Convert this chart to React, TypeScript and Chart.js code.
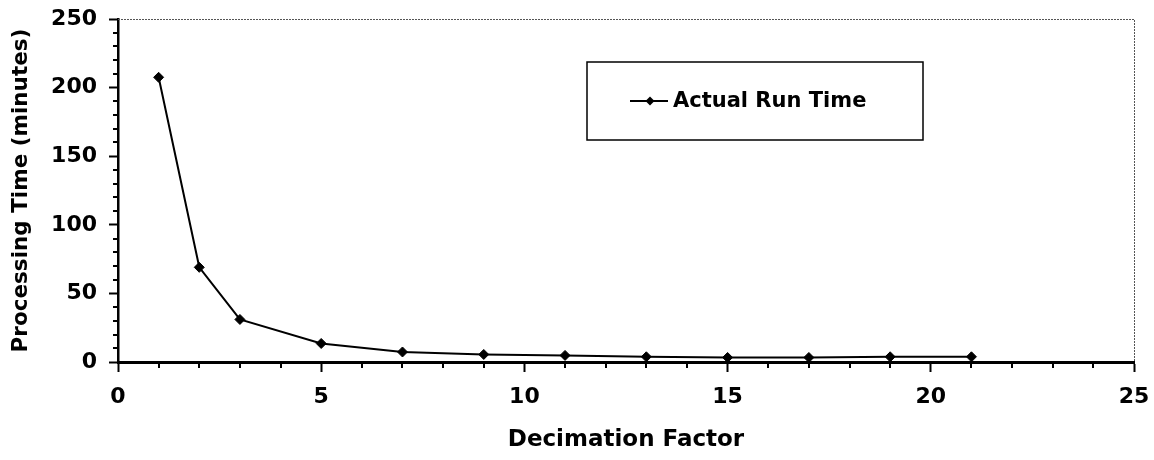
import React, { useEffect, useRef } from "react";
import { Chart, registerables } from "chart.js";

Chart.register(...registerables);

// ---- data ----
const decimationFactors = [1, 2, 3, 5, 7, 9, 11, 13, 15, 17, 19, 21];
const runTimes = [207.5, 69, 31, 13.5, 7.3, 5.5, 4.8, 3.8, 3.3, 3.3, 3.8, 3.8];
const seriesLabel = "Actual Run Time";
const xTitle = "Decimation Factor";
const yTitle = "Processing Time (minutes)";
const xRange = [0, 25];
const yRange = [0, 250];
const xMajorStep = 5;
const xMinorStep = 1;
const yMajorStep = 50;
const yMinorStep = 10;

const FONT = "'DejaVu Sans', sans-serif";

const decorations = {
  id: "decorations",
  afterDraw(chart: any) {
    const { ctx, chartArea, scales } = chart;
    const xs = scales.x;
    const ys = scales.y;
    ctx.save();
    // dotted top / right frame
    ctx.strokeStyle = "#555";
    ctx.lineWidth = 1;
    ctx.setLineDash([2, 1]);
    ctx.beginPath();
    ctx.moveTo(chartArea.left, Math.round(chartArea.top) + 0.5);
    ctx.lineTo(Math.round(chartArea.right) + 0.5, Math.round(chartArea.top) + 0.5);
    ctx.lineTo(Math.round(chartArea.right) + 0.5, chartArea.bottom);
    ctx.stroke();
    ctx.setLineDash([]);

    // minor ticks
    ctx.strokeStyle = "#000";
    ctx.lineWidth = 2;
    ctx.beginPath();
    for (let v = xRange[0]; v <= xRange[1]; v += xMinorStep) {
      if (v % xMajorStep === 0) continue;
      const px = Math.round(xs.getPixelForValue(v));
      ctx.moveTo(px, chartArea.bottom);
      ctx.lineTo(px, chartArea.bottom + 6);
    }
    for (let v = yRange[0]; v <= yRange[1]; v += yMinorStep) {
      if (v % yMajorStep === 0) continue;
      const py = Math.round(ys.getPixelForValue(v));
      ctx.moveTo(chartArea.left, py);
      ctx.lineTo(chartArea.left - 5, py);
    }
    ctx.stroke();

    // legend box
    const ds = chart.data.datasets[0];
    const bx = 587, by = 62, bw = 336, bh = 78;
    ctx.strokeStyle = "#000";
    ctx.lineWidth = 1.5;
    ctx.strokeRect(bx, by, bw, bh);
    const cy = by + bh / 2;
    ctx.lineWidth = 2;
    ctx.beginPath();
    ctx.moveTo(bx + 43, cy);
    ctx.lineTo(bx + 81, cy);
    ctx.stroke();
    ctx.fillStyle = "#000";
    ctx.beginPath();
    const mx = bx + 63, r = 4.5;
    ctx.moveTo(mx, cy - r);
    ctx.lineTo(mx + r, cy);
    ctx.lineTo(mx, cy + r);
    ctx.lineTo(mx - r, cy);
    ctx.closePath();
    ctx.fill();
    ctx.font = `bold 21px ${FONT}`;
    ctx.textBaseline = "middle";
    ctx.textAlign = "left";
    ctx.fillText(ds.label, bx + 86, cy + 1);
    ctx.restore();
  },
};

export default function App() {
  const ref = useRef<HTMLCanvasElement | null>(null);

  useEffect(() => {
    document.body.style.margin = "0";
    const canvas = ref.current;
    if (!canvas) return;
    const chart = new Chart(canvas, {
      type: "line",
      data: {
        datasets: [
          {
            label: seriesLabel,
            data: decimationFactors.map((x, i) => ({ x, y: runTimes[i] })),
            borderColor: "#000",
            backgroundColor: "#000",
            borderWidth: 2,
            pointStyle: "rectRot",
            pointRadius: 5,
            pointBackgroundColor: "#000",
            pointBorderColor: "#000",
            pointBorderWidth: 1,
            tension: 0,
          },
        ],
      },
      options: {
        responsive: false,
        animation: false,
        layout: { padding: { left: 0, top: 19, right: 20, bottom: 0 } },
        plugins: {
          legend: { display: false },
          tooltip: { enabled: false },
        },
        scales: {
          x: {
            type: "linear",
            min: xRange[0],
            max: xRange[1],
            afterFit: (s: any) => {
              s.height = 98;
              s.paddingLeft = 0;
              s.paddingRight = 0;
            },
            border: { display: true, color: "#000", width: 3 },
            grid: {
              drawOnChartArea: false,
              drawTicks: true,
              tickLength: 10,
              tickWidth: 2,
              tickColor: "#000",
            },
            ticks: {
              stepSize: xMajorStep,
              color: "#000",
              padding: 12,
              maxRotation: 0,
              font: { family: FONT, size: 22, weight: "bold" },
            },
            title: {
              display: true,
              text: xTitle,
              color: "#000",
              padding: { top: 0, bottom: 6 },
              font: { family: FONT, size: 23, weight: "bold" },
            },
          },
          y: {
            type: "linear",
            min: yRange[0],
            max: yRange[1],
            afterFit: (s: any) => {
              s.width = 118;
              s.paddingTop = 0;
              s.paddingBottom = 0;
            },
            border: { display: true, color: "#000", width: 2.5 },
            grid: {
              drawOnChartArea: false,
              drawTicks: true,
              tickLength: 9,
              tickWidth: 2,
              tickColor: "#000",
            },
            ticks: {
              stepSize: yMajorStep,
              color: "#000",
              padding: 12,
              font: { family: FONT, size: 22, weight: "bold" },
            },
            title: {
              display: true,
              text: yTitle,
              color: "#000",
              padding: { top: 9, bottom: 0 },
              font: { family: FONT, size: 21.5, weight: "bold" },
            },
          },
        },
      },
      plugins: [decorations],
    });
    return () => chart.destroy();
  }, []);

  return (
    <div style={{ width: 1154, height: 460, background: "#fff" }}>
      <canvas ref={ref} width={1154} height={460} />
    </div>
  );
}
